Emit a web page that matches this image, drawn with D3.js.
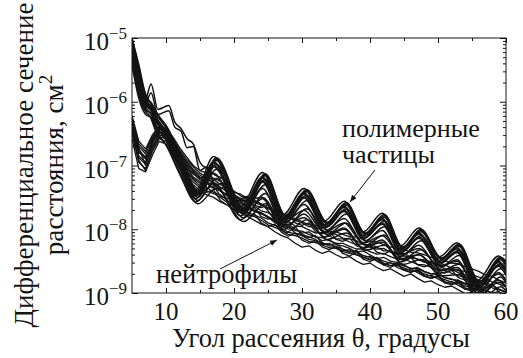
<!DOCTYPE html>
<html>
<head>
<meta charset="utf-8">
<script src="https://cdn.jsdelivr.net/npm/d3@7"></script>
</head>
<body style="margin:0">
<svg id="chart" width="523" height="358"></svg>
<script>
const WIDTH = 523;
const HEIGHT = 358;
const margin = { top: 38, right: 17, bottom: 65, left: 132 };
const FONT = 'Liberation Serif';
const INK = '#141414';

// --- data: log10 of the cross-section (cm^2) vs scattering angle (deg) ---

// polymer particles, read at the bends / peaks / valleys
const polyAngleA = [5, 6, 7, 7.6, 8.5, 10, 12, 14.4, 17, 21, 24.2, 27.2, 30.3, 33.3, 36.2, 39, 41.8, 44.5, 47.2, 50.2, 52.8, 55.8, 58.9, 60];
const polyAngleB = [5, 6, 7, 7.8, 8.8, 10.3, 12.3, 14.7, 17.4, 21.4, 24.6, 27.6, 30.7, 33.7, 36.5, 39.3, 42.1, 44.8, 47.5, 50.5, 53.1, 56.1, 59.2, 60];

const polymer1 = [-5.00, -5.42, -5.88, -6.00, -6.18, -6.40, -6.86, -7.38, -6.86, -7.64, -7.11, -7.77, -7.36, -7.87, -7.56, -8.04, -7.75, -8.26, -7.98, -8.43, -8.21, -8.80, -8.42, -8.56];
const polymer2 = [-5.04, -5.48, -5.94, -6.02, -6.22, -6.44, -6.90, -7.42, -6.90, -7.68, -7.15, -7.80, -7.40, -7.90, -7.60, -8.07, -7.79, -8.29, -8.02, -8.46, -8.25, -8.84, -8.46, -8.52];
const polymer3 = [-5.08, -5.54, -5.97, -6.05, -6.25, -6.47, -6.93, -7.44, -6.94, -7.70, -7.18, -7.83, -7.43, -7.93, -7.64, -8.10, -7.83, -8.32, -8.06, -8.49, -8.29, -8.87, -8.50, -8.64];
const polymer4 = [-5.13, -5.60, -6.01, -6.08, -6.28, -6.50, -6.96, -7.46, -6.98, -7.72, -7.22, -7.85, -7.47, -7.96, -7.68, -8.13, -7.87, -8.35, -8.10, -8.52, -8.33, -8.90, -8.54, -8.60];
const polymer5 = [-5.17, -5.66, -6.04, -6.10, -6.31, -6.53, -6.99, -7.48, -7.02, -7.74, -7.26, -7.88, -7.51, -7.98, -7.72, -8.15, -7.92, -8.37, -8.14, -8.55, -8.37, -8.93, -8.58, -8.72];
const polymer6 = [-5.22, -5.72, -6.07, -6.13, -6.34, -6.56, -7.02, -7.50, -7.06, -7.76, -7.30, -7.90, -7.55, -8.01, -7.76, -8.18, -7.96, -8.40, -8.18, -8.58, -8.41, -8.96, -8.62, -8.70];
const polymer7 = [-5.27, -5.78, -6.10, -6.16, -6.38, -6.60, -7.05, -7.52, -7.12, -7.79, -7.36, -7.93, -7.61, -8.04, -7.83, -8.21, -8.02, -8.43, -8.25, -8.61, -8.48, -9.00, -8.68, -8.80];
const polymer8 = [-5.32, -5.84, -6.13, -6.19, -6.42, -6.64, -7.09, -7.55, -7.20, -7.82, -7.44, -7.97, -7.68, -8.08, -7.90, -8.25, -8.09, -8.47, -8.32, -8.65, -8.55, -9.04, -8.75, -8.84];
const polymer9 = [-5.37, -5.89, -6.16, -6.22, -6.46, -6.68, -7.13, -7.57, -7.28, -7.85, -7.52, -8.01, -7.76, -8.12, -7.98, -8.29, -8.17, -8.51, -8.40, -8.69, -8.63, -9.08, -8.83, -8.90];
const polymer10 = [-5.42, -5.95, -6.20, -6.25, -6.50, -6.72, -7.17, -7.60, -7.36, -7.88, -7.60, -8.05, -7.85, -8.16, -8.06, -8.33, -8.25, -8.55, -8.48, -8.73, -8.71, -9.12, -8.90, -8.96];
const polymer11 = [-5.02, -5.45, -5.91, -6.01, -6.20, -6.42, -6.88, -7.40, -6.88, -7.66, -7.13, -7.79, -7.38, -7.89, -7.58, -8.06, -7.77, -8.28, -8.00, -8.45, -8.23, -8.82, -8.44, -8.50];
const polymer12 = [-5.10, -5.57, -5.99, -6.06, -6.26, -6.48, -6.94, -7.45, -6.96, -7.71, -7.20, -7.84, -7.45, -7.94, -7.66, -8.11, -7.85, -8.33, -8.08, -8.50, -8.31, -8.88, -8.52, -8.66];
const polymer13 = [-5.06, -5.51, -5.95, -6.03, -6.23, -6.45, -6.91, -7.43, -6.92, -7.69, -7.16, -7.81, -7.41, -7.91, -7.62, -8.08, -7.81, -8.30, -8.04, -8.47, -8.27, -8.85, -8.48, -8.58];
const polymer14 = [-5.15, -5.63, -6.02, -6.09, -6.30, -6.52, -6.98, -7.47, -7.00, -7.73, -7.24, -7.86, -7.49, -7.97, -7.70, -8.14, -7.90, -8.36, -8.12, -8.53, -8.35, -8.92, -8.56, -8.66];

// a few particles with faster ripples at small angles
const oddAngle = [5, 6, 7, 7.8, 8.8, 10.4, 11.3, 12.2, 13.1, 14, 15, 16, 17.2, 18.5, 20, 21.5, 24.2, 27.2, 30.3, 33.3, 36.2, 39, 41.8, 44.5, 47.2, 50.2, 52.8, 55.8, 58.9, 60];
const odd1 = [-5.10, -5.58, -5.95, -5.72, -6.12, -6.06, -6.32, -6.42, -6.58, -6.66, -6.95, -7.05, -7.15, -7.22, -7.45, -7.55, -7.50, -7.90, -7.70, -8.05, -7.90, -8.22, -8.10, -8.40, -8.30, -8.58, -8.50, -8.92, -8.70, -8.80];
const odd2 = [-5.16, -5.66, -6.02, -5.86, -6.20, -6.14, -6.40, -6.46, -6.72, -6.70, -7.08, -7.02, -7.30, -7.28, -7.58, -7.52, -7.62, -7.95, -7.82, -8.12, -8.00, -8.30, -8.20, -8.46, -8.40, -8.64, -8.60, -9.00, -8.80, -8.90];

// neutrophils, read every degree
const neuAngle = [5, 6, 7, 8, 9, 10, 11, 12, 13, 14, 15, 16, 17, 18, 19, 20, 21, 22, 23, 24, 25, 26, 27, 28, 29, 30, 31, 32, 33, 34, 35, 36, 37, 38, 39, 40, 41, 42, 43, 44, 45, 46, 47, 48, 49, 50, 51, 52, 53, 54, 55, 56, 57, 58, 59, 60];

const neutro1 = [-6.22, -6.62, -6.74, -6.52, -6.38, -6.42, -6.55, -6.72, -6.86, -7.00,
  -7.08, -7.12, -7.20, -7.25, -7.33, -7.42, -7.45, -7.52, -7.55, -7.60,
  -7.68, -7.70, -7.76, -7.82, -7.83, -7.88, -7.93, -7.94, -7.98, -8.03,
  -8.04, -8.08, -8.12, -8.12, -8.16, -8.20, -8.20, -8.24, -8.28, -8.28,
  -8.32, -8.36, -8.37, -8.40, -8.44, -8.45, -8.49, -8.53, -8.54, -8.59,
  -8.62, -8.66, -8.72, -8.74, -8.80, -8.84];
const neutro2 = [-6.32, -6.70, -6.82, -6.58, -6.43, -6.47, -6.60, -6.78, -6.93, -7.06,
  -7.15, -7.22, -7.26, -7.34, -7.41, -7.47, -7.55, -7.58, -7.64, -7.71,
  -7.74, -7.80, -7.84, -7.88, -7.95, -7.96, -8.01, -8.06, -8.05, -8.11,
  -8.15, -8.15, -8.20, -8.24, -8.23, -8.28, -8.31, -8.30, -8.36, -8.39,
  -8.38, -8.44, -8.47, -8.48, -8.51, -8.56, -8.56, -8.61, -8.65, -8.66,
  -8.71, -8.75, -8.77, -8.83, -8.86, -8.91];
const neutro3 = [-6.38, -6.78, -6.90, -6.64, -6.47, -6.50, -6.66, -6.86, -7.00, -7.13,
  -7.22, -7.27, -7.35, -7.40, -7.47, -7.56, -7.60, -7.66, -7.72, -7.75,
  -7.82, -7.88, -7.90, -7.96, -8.02, -8.03, -8.08, -8.12, -8.13, -8.18,
  -8.22, -8.22, -8.27, -8.31, -8.31, -8.35, -8.39, -8.38, -8.43, -8.47,
  -8.47, -8.51, -8.55, -8.56, -8.60, -8.64, -8.64, -8.69, -8.73, -8.75,
  -8.80, -8.83, -8.86, -8.92, -8.95, -8.99];
const neutro4 = [-6.44, -6.88, -6.98, -6.72, -6.52, -6.56, -6.72, -6.92, -7.07, -7.20,
  -7.28, -7.35, -7.42, -7.46, -7.55, -7.62, -7.66, -7.74, -7.78, -7.82,
  -7.90, -7.94, -7.98, -8.05, -8.07, -8.10, -8.16, -8.18, -8.21, -8.26,
  -8.27, -8.31, -8.35, -8.36, -8.41, -8.44, -8.45, -8.50, -8.53, -8.54,
  -8.58, -8.61, -8.62, -8.67, -8.70, -8.71, -8.76, -8.79, -8.80, -8.85,
  -8.88, -8.90, -8.96, -9.00, -9.03, -9.08];
const neutro5 = [-6.50, -6.95, -7.05, -6.78, -6.58, -6.62, -6.78, -6.98, -7.13, -7.26,
  -7.35, -7.42, -7.38, -7.55, -7.62, -7.58, -7.74, -7.80, -7.76, -7.90,
  -7.96, -7.92, -8.05, -8.11, -8.06, -8.17, -8.22, -8.18, -8.28, -8.32,
  -8.27, -8.38, -8.42, -8.36, -8.47, -8.51, -8.45, -8.56, -8.60, -8.54,
  -8.64, -8.68, -8.62, -8.73, -8.77, -8.72, -8.82, -8.86, -8.80, -8.92,
  -8.95, -8.90, -9.03, -9.06, -9.02, -9.14];
const neutro6 = [-6.58, -7.05, -7.10, -6.84, -6.62, -6.66, -6.83, -7.04, -7.20, -7.30,
  -7.40, -7.46, -7.50, -7.57, -7.62, -7.70, -7.74, -7.80, -7.86, -7.92,
  -7.96, -8.04, -8.10, -8.14, -8.22, -8.28, -8.26, -8.33, -8.38, -8.34,
  -8.40, -8.45, -8.43, -8.50, -8.55, -8.53, -8.60, -8.65, -8.62, -8.68,
  -8.74, -8.70, -8.77, -8.83, -8.81, -8.87, -8.91, -8.89, -8.95, -9.01,
  -8.99, -9.05, -9.11, -9.09, -9.15, -9.20];
const neutro7 = [-6.35, -6.85, -6.95, -6.60, -6.45, -6.55, -6.68, -6.88, -7.05, -7.12,
  -7.22, -7.28, -7.36, -7.38, -7.48, -7.54, -7.58, -7.62, -7.72, -7.76,
  -7.80, -7.86, -7.94, -7.92, -8.00, -8.06, -8.04, -8.12, -8.18, -8.16,
  -8.24, -8.26, -8.30, -8.36, -8.34, -8.40, -8.46, -8.44, -8.50, -8.52,
  -8.56, -8.62, -8.60, -8.66, -8.70, -8.68, -8.76, -8.78, -8.82, -8.86,
  -8.90, -8.88, -8.96, -9.00, -8.98, -9.06];
const neutro8 = [-6.42, -6.80, -6.86, -6.70, -6.50, -6.45, -6.62, -6.82, -6.95, -7.10,
  -7.18, -7.26, -7.30, -7.40, -7.46, -7.52, -7.56, -7.66, -7.70, -7.74,
  -7.80, -7.90, -7.92, -7.96, -8.06, -8.08, -8.12, -8.16, -8.24, -8.22,
  -8.28, -8.34, -8.32, -8.40, -8.44, -8.42, -8.50, -8.56, -8.52, -8.60,
  -8.64, -8.62, -8.68, -8.74, -8.72, -8.78, -8.84, -8.82, -8.88, -8.94,
  -8.92, -8.98, -9.04, -9.02, -9.08, -9.12];
const neutro9 = [-6.28, -6.66, -6.78, -6.55, -6.40, -6.44, -6.58, -6.75, -6.90, -7.02,
  -7.12, -7.18, -7.22, -7.30, -7.36, -7.40, -7.48, -7.50, -7.58, -7.62,
  -7.66, -7.74, -7.76, -7.82, -7.86, -7.90, -7.96, -7.97, -8.02, -8.06,
  -8.08, -8.14, -8.15, -8.18, -8.24, -8.24, -8.28, -8.34, -8.34, -8.38,
  -8.42, -8.43, -8.47, -8.52, -8.52, -8.57, -8.62, -8.63, -8.68, -8.72,
  -8.74, -8.80, -8.84, -8.88, -8.94, -8.98];
const neutro10 = [-6.30, -6.75, -6.88, -6.62, -6.48, -6.52, -6.70, -6.90, -7.02, -7.18,
  -7.25, -7.36, -7.32, -7.48, -7.52, -7.50, -7.64, -7.68, -7.66, -7.80,
  -7.84, -7.82, -7.96, -8.00, -7.96, -8.10, -8.13, -8.10, -8.22, -8.25,
  -8.22, -8.32, -8.36, -8.33, -8.44, -8.47, -8.44, -8.54, -8.57, -8.54,
  -8.64, -8.67, -8.64, -8.74, -8.77, -8.74, -8.84, -8.87, -8.84, -8.94,
  -8.97, -8.94, -9.04, -9.07, -9.04, -9.12];
const neutro11 = [-6.26, -6.72, -7.00, -6.66, -6.42, -6.50, -6.62, -6.80, -6.98, -7.08,
  -7.20, -7.16, -7.30, -7.36, -7.32, -7.46, -7.52, -7.48, -7.62, -7.66,
  -7.62, -7.76, -7.80, -7.76, -7.90, -7.94, -7.90, -8.04, -8.07, -8.03,
  -8.16, -8.19, -8.14, -8.26, -8.29, -8.24, -8.36, -8.39, -8.34, -8.46,
  -8.49, -8.44, -8.56, -8.59, -8.54, -8.66, -8.69, -8.64, -8.76, -8.80,
  -8.74, -8.88, -8.92, -8.86, -9.00, -9.04];
const neutro12 = [-6.46, -6.92, -7.08, -6.76, -6.55, -6.58, -6.74, -6.95, -7.10, -7.22,
  -7.32, -7.40, -7.44, -7.50, -7.58, -7.64, -7.70, -7.77, -7.80, -7.86,
  -7.93, -7.97, -8.02, -8.08, -8.10, -8.14, -8.19, -8.21, -8.25, -8.29,
  -8.30, -8.35, -8.38, -8.40, -8.44, -8.48, -8.48, -8.53, -8.57, -8.57,
  -8.61, -8.65, -8.66, -8.70, -8.74, -8.75, -8.79, -8.83, -8.84, -8.89,
  -8.92, -8.94, -9.00, -9.03, -9.07, -9.11];

// axis ticks
const xTicks = [10, 20, 30, 40, 50, 60];
const xMinorTicks = [15, 25, 35, 45, 55];
const yExponents = [-9, -8, -7, -6, -5];

// --- chart ---
const innerW = WIDTH - margin.left - margin.right;
const innerH = HEIGHT - margin.top - margin.bottom;

const polymerSeries = [
  [polyAngleA, polymer1], [polyAngleB, polymer2], [polyAngleA, polymer3], [polyAngleB, polymer4],
  [polyAngleA, polymer5], [polyAngleB, polymer6], [polyAngleA, polymer7], [polyAngleB, polymer8],
  [polyAngleA, polymer9], [polyAngleB, polymer10], [polyAngleB, polymer11], [polyAngleA, polymer12],
  [polyAngleB, polymer13], [polyAngleA, polymer14],
  [oddAngle, odd1], [oddAngle, odd2]
];
const neutroSeries = [neutro1, neutro2, neutro3, neutro4, neutro5, neutro6, neutro7, neutro8,
  neutro9, neutro10, neutro11, neutro12].map((v) => [neuAngle, v]);

const svg = d3.select('#chart');

const g = svg.append('g')
  .attr('transform', `translate(${margin.left},${margin.top})`);

const xScale = d3.scaleLinear().domain([5, 60]).range([0, innerW]);
const yScale = d3.scaleLog().domain([1e-9, 1e-5]).range([innerH, 0]);

g.append('clipPath').attr('id', 'plot-clip')
  .append('rect').attr('width', innerW).attr('height', innerH);

const plot = g.append('g').attr('clip-path', 'url(#plot-clip)');

function drawCurve(angles, values, curve, width) {
  const pts = angles.map((a, i) => [a, values[i]]);
  plot.append('path')
    .datum(pts)
    .attr('fill', 'none')
    .attr('stroke', INK)
    .attr('stroke-width', width)
    .attr('stroke-linejoin', 'round')
    .attr('d', d3.line()
      .curve(curve)
      .x((d) => xScale(d[0]))
      .y((d) => yScale(Math.pow(10, d[1]))));
}

neutroSeries.forEach(([a, v]) => drawCurve(a, v, d3.curveLinear, 1.3));
polymerSeries.forEach(([a, v]) => drawCurve(a, v, d3.curveMonotoneX, 1.5));

// frame
g.append('rect')
  .attr('width', innerW)
  .attr('height', innerH)
  .attr('fill', 'none')
  .attr('stroke', INK)
  .attr('stroke-width', 1);

// minor y ticks (2..9 per decade)
const yMinor = [];
yExponents.slice(0, -1).forEach((e) => {
  for (let k = 2; k <= 9; k++) yMinor.push(k * Math.pow(10, e));
});
const yMajor = yExponents.map((e) => Math.pow(10, e));

function tickAxis(axis, size) {
  return axis.tickSizeInner(size).tickSizeOuter(0).tickFormat('');
}

g.append('g').call(tickAxis(d3.axisLeft(yScale).tickValues(yMajor), -6));
g.append('g').call(tickAxis(d3.axisLeft(yScale).tickValues(yMinor), -3));
g.append('g').attr('transform', `translate(${innerW},0)`)
  .call(tickAxis(d3.axisRight(yScale).tickValues(yMajor), -6));
g.append('g').attr('transform', `translate(${innerW},0)`)
  .call(tickAxis(d3.axisRight(yScale).tickValues(yMinor), -3));

g.append('g').attr('transform', `translate(0,${innerH})`)
  .call(tickAxis(d3.axisBottom(xScale).tickValues(xTicks), -5));
g.append('g').attr('transform', `translate(0,${innerH})`)
  .call(tickAxis(d3.axisBottom(xScale).tickValues(xMinorTicks), -3));
g.append('g').call(tickAxis(d3.axisTop(xScale).tickValues(xTicks), -5));
g.append('g').call(tickAxis(d3.axisTop(xScale).tickValues(xMinorTicks), -3));

g.selectAll('.domain').remove();
g.selectAll('.tick line').attr('stroke', INK);

// text helper: serif, optionally scaled so it spans the width seen in the figure
function label(parent, size, fitWidth) {
  const t = parent.append('text')
    .attr('fill', INK)
    .style('font-family', FONT)
    .style('font-size', size + 'px');
  t.fit = () => {
    if (fitWidth) {
      const w = t.node().getComputedTextLength();
      t.style('font-size', (size * fitWidth / w).toFixed(2) + 'px');
    }
    return t;
  };
  return t;
}

// tick labels
xTicks.forEach((d) => {
  label(g, 25)
    .attr('x', xScale(d))
    .attr('y', innerH + 27)
    .attr('text-anchor', 'middle')
    .text(d);
});

yExponents.forEach((d) => {
  const t = label(g, 25)
    .attr('x', -5)
    .attr('y', yScale(Math.pow(10, d)) + 12)
    .attr('text-anchor', 'end');
  t.append('tspan').text('10');
  t.append('tspan')
    .attr('dy', -11)
    .style('font-size', '17px')
    .text('\u2212' + Math.abs(d));
});

// axis titles
label(svg, 24, 298)
  .attr('x', 321)
  .attr('y', 347)
  .attr('text-anchor', 'middle')
  .text('Угол рассеяния θ, градусы')
  .fit();

const yt1 = label(svg, 24, 325)
  .attr('transform', 'translate(33,165) rotate(-90)')
  .attr('text-anchor', 'middle')
  .text('Дифференциальное сечение')
  .fit();
const titleSize = parseFloat(yt1.style('font-size'));

const yt2 = label(svg, titleSize)
  .attr('transform', 'translate(63,165) rotate(-90)')
  .attr('text-anchor', 'middle');
yt2.append('tspan').text('расстояния, см');
yt2.append('tspan')
  .attr('dy', -11)
  .style('font-size', (titleSize * 0.7).toFixed(1) + 'px')
  .text('2');

// annotations
svg.append('defs').append('marker')
  .attr('id', 'arrow')
  .attr('viewBox', '0 0 10 10')
  .attr('refX', 10)
  .attr('refY', 5)
  .attr('markerWidth', 7)
  .attr('markerHeight', 7)
  .attr('markerUnits', 'userSpaceOnUse')
  .attr('orient', 'auto')
  .append('path')
  .attr('d', 'M0,1 L10,5 L0,9 Z')
  .attr('fill', INK);

label(svg, 24, 138).attr('x', 342).attr('y', 137).text('полимерные').fit();
label(svg, 24, 93).attr('x', 342).attr('y', 163).text('частицы').fit();
svg.append('line')
  .attr('x1', 375).attr('y1', 170).attr('x2', 350).attr('y2', 202)
  .attr('stroke', INK).attr('stroke-width', 1)
  .attr('marker-end', 'url(#arrow)');

label(svg, 24, 141).attr('x', 156).attr('y', 283).text('нейтрофилы').fit();
svg.append('line')
  .attr('x1', 220).attr('y1', 269).attr('x2', 277).attr('y2', 240)
  .attr('stroke', INK).attr('stroke-width', 1)
  .attr('marker-end', 'url(#arrow)');
</script>
</body>
</html>
